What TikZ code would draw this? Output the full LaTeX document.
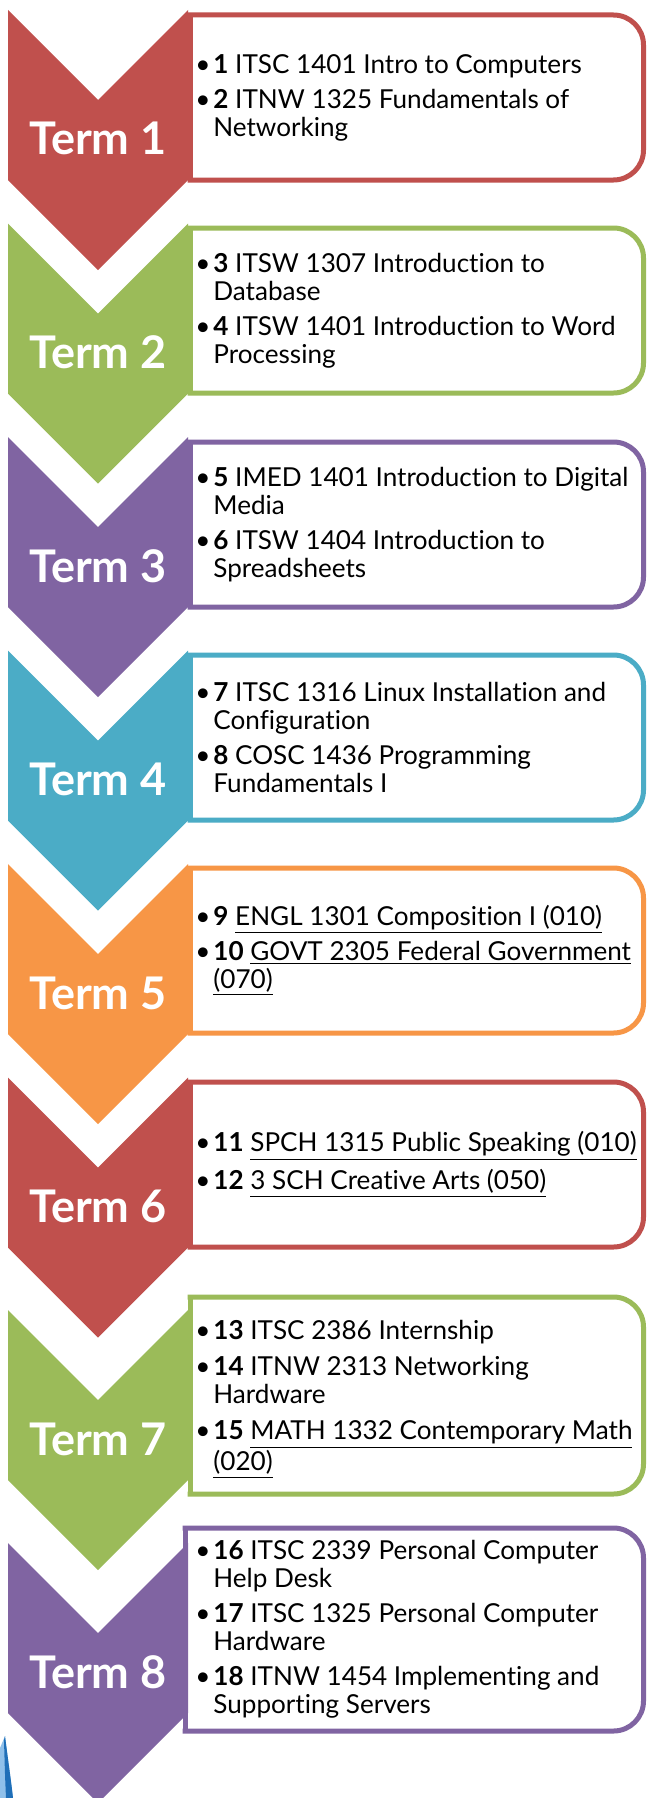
\documentclass[tikz,border=0pt]{standalone}
\usepackage{fontspec}
\setmainfont{Lato}[Ligatures=NoCommon]
\definecolor{cred}{HTML}{C0504D}
\definecolor{cgreen}{HTML}{9BBB59}
\definecolor{cpurple}{HTML}{8064A2}
\definecolor{caqua}{HTML}{4BACC6}
\definecolor{corange}{HTML}{F79646}
\definecolor{bluedark}{HTML}{1F6FB8}
\definecolor{bluelight}{HTML}{8FC0EA}
\newcommand\bul{\llap{\textbullet\hspace{1.5pt}}}
\newcommand\myul[1]{\underline{#1}}
\newcommand\mychev[2]{%
  \fill[#1] (8,#2) -- (98,{#2+90}) -- (188,#2) -- (188,{#2+170}) -- (98,{#2+260}) -- (8,{#2+170}) -- cycle;}
\newcommand\mybox[5]{%
  \begin{scope}
    \clip ({#3-2.5},{#4-10}) rectangle (660,{#5+10});
    \draw[boxline=#2] ({#3-60},#4) rectangle (643.5,#5);
  \end{scope}
  \draw[draw=#2, line width=2.5pt] (#3,#4) -- (#3,#5);}
\begin{document}
\begin{tikzpicture}[x=0.5pt,y=-0.5pt]
\tikzset{
  boxline/.style={draw=#1, line width=2.5pt, fill=white, rounded corners=15pt},
  termlabel/.style={text=white, font=\fontsize{22.5}{22.5}\selectfont\bfseries, anchor=base, inner sep=0pt},
  items/.style={anchor=west, align=left, inner sep=0pt, text=black, font=\fontsize{13.05}{14}\selectfont},
}
\useasboundingbox (0,0) rectangle (647,1798);
\fill[white] (0,0) rectangle (647,1798);
% boxes
\mybox{b1}{cred}{190}{15}{180}
\mybox{b2}{cgreen}{190}{228}{393}
\mybox{b3}{cpurple}{190}{442}{607}
\mybox{b4}{caqua}{190}{655}{820}
\mybox{b5}{corange}{190}{868}{1033}
\mybox{b6}{cred}{190}{1082}{1247}
\mybox{b7}{cgreen}{190}{1297}{1494}
\mybox{b8}{cpurple}{185}{1528}{1731}
% chevrons
\mychev{cred}{10}
\mychev{cgreen}{223.5}
\mychev{cpurple}{437}
\mychev{caqua}{650.5}
\mychev{corange}{864}
\mychev{cred}{1077.5}
\mychev{cgreen}{1310}
\mychev{cpurple}{1543}
% blue decoration
\fill[bluelight] (0,1748) .. controls (2,1742) .. (5,1736) .. controls (8,1760) and (11,1780) .. (13,1798) -- (0,1798) -- cycle;
\fill[bluedark] (5,1736) .. controls (8,1760) and (11,1780) .. (13,1798) -- (6,1798) .. controls (5,1775) .. (4,1740) -- cycle;
% term labels
\node[termlabel] (l1) at (98,155) {Term 1};
\node[termlabel] (l2) at (98,368.5) {Term 2};
\node[termlabel] (l3) at (98,582) {Term 3};
\node[termlabel] (l4) at (98,795.5) {Term 4};
\node[termlabel] (l5) at (98,1009) {Term 5};
\node[termlabel] (l6) at (98,1222.5) {Term 6};
\node[termlabel] (l7) at (98,1455) {Term 7};
\node[termlabel] (l8) at (98,1688) {Term 8};
% items
\node[items] (t1) at (213,97.5) {\bul\textbf{1} ITSC 1401 Intro to Computers\\[3.5pt]
\bul\textbf{2} ITNW 1325 Fundamentals of\\Networking};
\node[items] (t2) at (213,310.5) {\bul\textbf{3} ITSW 1307 Introduction to\\Database\\[3.5pt]
\bul\textbf{4} ITSW 1401 Introduction to Word\\Processing};
\node[items] (t3) at (213,524.5) {\bul\textbf{5} IMED 1401 Introduction to Digital\\Media\\[3.5pt]
\bul\textbf{6} ITSW 1404 Introduction to\\Spreadsheets};
\node[items] (t4) at (213,737.5) {\bul\textbf{7} ITSC 1316 Linux Installation and\\Configuration\\[3.5pt]
\bul\textbf{8} COSC 1436 Programming\\Fundamentals I};
\node[items] (t5) at (213,950.5) {\bul\textbf{9} \myul{ENGL 1301 Composition I (010)}\\[3.5pt]
\bul\textbf{10} \myul{GOVT 2305 Federal Government}\\\myul{(070)}};
\node[items] (t6) at (213,1164.5) {\bul\textbf{11} \myul{SPCH 1315 Public Speaking (010)}\\[3.5pt]
\bul\textbf{12} \myul{3 SCH Creative Arts (050)}};
\node[items] (t7) at (213,1399.5) {\bul\textbf{13} ITSC 2386 Internship\\[4pt]
\bul\textbf{14} ITNW 2313 Networking\\Hardware\\[4pt]
\bul\textbf{15} \myul{MATH 1332 Contemporary Math}\\\myul{(020)}};
\node[items] (t8) at (213,1629.5) {\bul\textbf{16} ITSC 2339 Personal Computer\\Help Desk\\[3.5pt]
\bul\textbf{17} ITSC 1325 Personal Computer\\Hardware\\[3.5pt]
\bul\textbf{18} ITNW 1454 Implementing and\\Supporting Servers};
\end{tikzpicture}
\end{document}
